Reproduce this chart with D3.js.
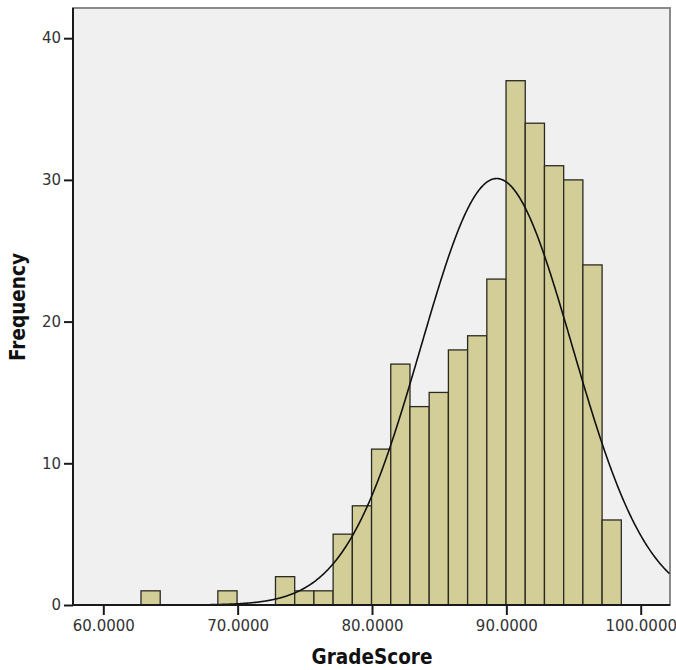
<!DOCTYPE html>
<html>
<head>
<meta charset="utf-8">
<script src="https://cdn.jsdelivr.net/npm/d3@7"></script>
<style>
  html, body { margin: 0; padding: 0; background: #ffffff; }
  svg { display: block; }
</style>
</head>
<body>
<svg id="chart" width="676" height="670"></svg>
<script>
// ---- data ----
const binCounts = [1, 0, 0, 0, 1, 0, 0, 2, 1, 1, 5, 7, 11, 17, 14, 15, 18, 19, 23, 37, 34, 31, 30, 24, 6];
const binStart = 62.806;
const binWidth = 1.43;
const xTicks = [60, 70, 80, 90, 100];
const yTicks = [0, 10, 20, 30, 40];
const xDomain = [57.745, 102.18];
const yDomain = [0, 42.13];
const curveMean = 89.28;
const curveSD = 5.63;
const xTitle = "GradeScore";
const yTitle = "Frequency";

// ---- layout ----
const plot = { left: 73, right: 670, top: 8, bottom: 605 };

const svg = d3.select("#chart");
const x = d3.scaleLinear().domain(xDomain).range([plot.left, plot.right]);
const y = d3.scaleLinear().domain(yDomain).range([plot.bottom, plot.top]);

const bins = binCounts.map((c, i) => ({ x0: binStart + i * binWidth, x1: binStart + (i + 1) * binWidth, count: c }));
const N = d3.sum(binCounts);

// background
svg.append("rect")
  .attr("x", plot.left).attr("y", plot.top)
  .attr("width", plot.right - plot.left).attr("height", plot.bottom - plot.top)
  .attr("fill", "#f0f0f0")
  .attr("stroke", "#8a8a8a").attr("stroke-width", 2);

// bars
svg.append("g").selectAll("rect")
  .data(bins.filter(d => d.count > 0))
  .join("rect")
  .attr("x", d => x(d.x0))
  .attr("y", d => y(d.count))
  .attr("width", d => x(d.x1) - x(d.x0))
  .attr("height", d => y(0) - y(d.count))
  .attr("fill", "#d3ce97")
  .attr("stroke", "#2a2a22")
  .attr("stroke-width", 1.3);

// normal curve
const curvePts = d3.range(xDomain[0], xDomain[1] + 0.001, 0.05).map(v => {
  const z = (v - curveMean) / curveSD;
  return [v, N * binWidth / (curveSD * Math.sqrt(2 * Math.PI)) * Math.exp(-0.5 * z * z)];
});
svg.append("path")
  .datum(curvePts)
  .attr("d", d3.line().x(d => x(d[0])).y(d => y(d[1])))
  .attr("fill", "none")
  .attr("stroke", "#111")
  .attr("stroke-width", 1.6);

// axes
const fontTick = "'DejaVu Sans', Verdana, sans-serif";
const xAxis = svg.append("g")
  .attr("transform", `translate(0,${plot.bottom})`)
  .call(d3.axisBottom(x).tickValues(xTicks).tickFormat(d3.format(".4f")).tickSize(10).tickPadding(5).tickSizeOuter(0));
const yAxis = svg.append("g")
  .attr("transform", `translate(${plot.left},0)`)
  .call(d3.axisLeft(y).tickValues(yTicks).tickFormat(d3.format("d")).tickSize(9).tickPadding(3).tickSizeOuter(0));

[xAxis, yAxis].forEach(g => {
  g.select(".domain").attr("stroke", "#1a1a1a").attr("stroke-width", 2);
  g.selectAll(".tick line").attr("stroke", "#1a1a1a").attr("stroke-width", 2);
  g.selectAll(".tick text")
    .attr("font-family", fontTick)
    .attr("font-size", 15)
    .attr("fill", "#333");
});
xAxis.select(".domain").attr("d", `M${plot.left},0H${plot.right}`);
yAxis.select(".domain").attr("d", `M0,${plot.bottom}V${plot.top}`);

// titles
const fontTitle = "'DejaVu Sans Condensed', 'DejaVu Sans', sans-serif";
svg.append("text")
  .attr("x", (plot.left + plot.right) / 2 + 0.5)
  .attr("y", 664)
  .attr("text-anchor", "middle")
  .attr("font-family", fontTitle)
  .attr("font-stretch", "condensed")
  .attr("font-weight", "bold")
  .attr("font-size", 20.5)
  .attr("fill", "#111")
  .text(xTitle);

svg.append("text")
  .attr("transform", "translate(25,307) rotate(-90)")
  .attr("text-anchor", "middle")
  .attr("font-family", fontTitle)
  .attr("font-stretch", "condensed")
  .attr("font-weight", "bold")
  .attr("font-size", 20.5)
  .attr("fill", "#111")
  .text(yTitle);
</script>
</body>
</html>
